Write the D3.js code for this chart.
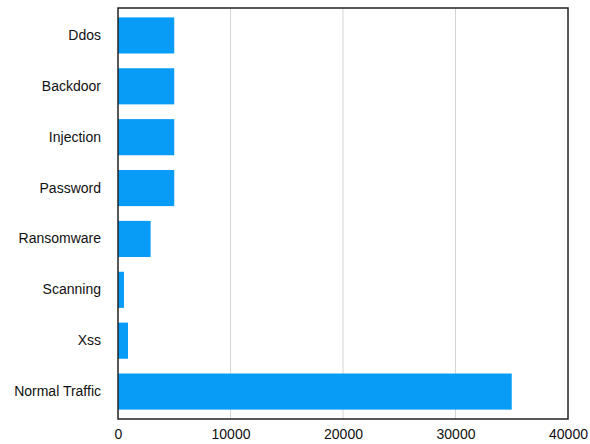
<!DOCTYPE html>
<html>
<head>
<meta charset="utf-8">
<script src="https://cdn.jsdelivr.net/npm/d3@7"></script>
<style>
  body { margin: 0; background: #fff; }
  text { font-family: "Liberation Sans", Arial, sans-serif; }
</style>
</head>
<body>
<svg id="chart" width="590" height="444"></svg>
<script>
var categories = ["Ddos", "Backdoor", "Injection", "Password", "Ransomware", "Scanning", "Xss", "Normal Traffic"];
var counts = [5000, 5000, 5000, 5000, 2900, 530, 890, 35000];
var xTicks = [0, 10000, 20000, 30000, 40000];

var margin = {left: 118, right: 22, top: 8, bottom: 25};
var width = 590 - margin.left - margin.right;
var height = 444 - margin.top - margin.bottom;

var data = categories.map(function (c, i) { return {name: c, value: counts[i]}; });

var svg = d3.select("#chart");
var g = svg.append("g").attr("transform", "translate(" + margin.left + "," + margin.top + ")");

var x = d3.scaleLinear().domain([0, 40000]).range([0, width]);
var y = d3.scaleBand().domain(categories).range([2, height - 2])
    .paddingInner(0.29).paddingOuter(0.145);

// grid lines
g.selectAll(".grid")
    .data(xTicks.slice(1, -1))
    .enter()
    .append("line")
    .attr("class", "grid")
    .attr("x1", function (d) { return x(d); })
    .attr("x2", function (d) { return x(d); })
    .attr("y1", 0)
    .attr("y2", height)
    .attr("stroke", "#d4d4d4")
    .attr("stroke-width", 1);

// bars
g.selectAll(".bar")
    .data(data)
    .enter()
    .append("rect")
    .attr("class", "bar")
    .attr("x", x(0))
    .attr("y", function (d) { return y(d.name); })
    .attr("width", function (d) { return x(d.value) - x(0); })
    .attr("height", y.bandwidth())
    .attr("fill", "#089cf6");

// frame
g.append("rect")
    .attr("x", 0)
    .attr("y", 0)
    .attr("width", width)
    .attr("height", height)
    .attr("fill", "none")
    .attr("stroke", "#222")
    .attr("stroke-width", 1.5);

// x axis
var xAxis = d3.axisBottom(x).tickValues(xTicks).tickSize(0).tickPadding(10)
    .tickFormat(d3.format("d"));
g.append("g")
    .attr("transform", "translate(0," + height + ")")
    .call(xAxis)
    .call(function (a) { a.select(".domain").remove(); })
    .selectAll("text")
    .attr("font-size", 14)
    .attr("font-family", "Liberation Sans, Arial, sans-serif")
    .attr("fill", "#111");

// y axis
var yAxis = d3.axisLeft(y).tickSize(0).tickPadding(17);
g.append("g")
    .call(yAxis)
    .call(function (a) { a.select(".domain").remove(); })
    .selectAll("text")
    .attr("font-size", 14)
    .attr("font-family", "Liberation Sans, Arial, sans-serif")
    .attr("fill", "#111");
</script>
</body>
</html>
